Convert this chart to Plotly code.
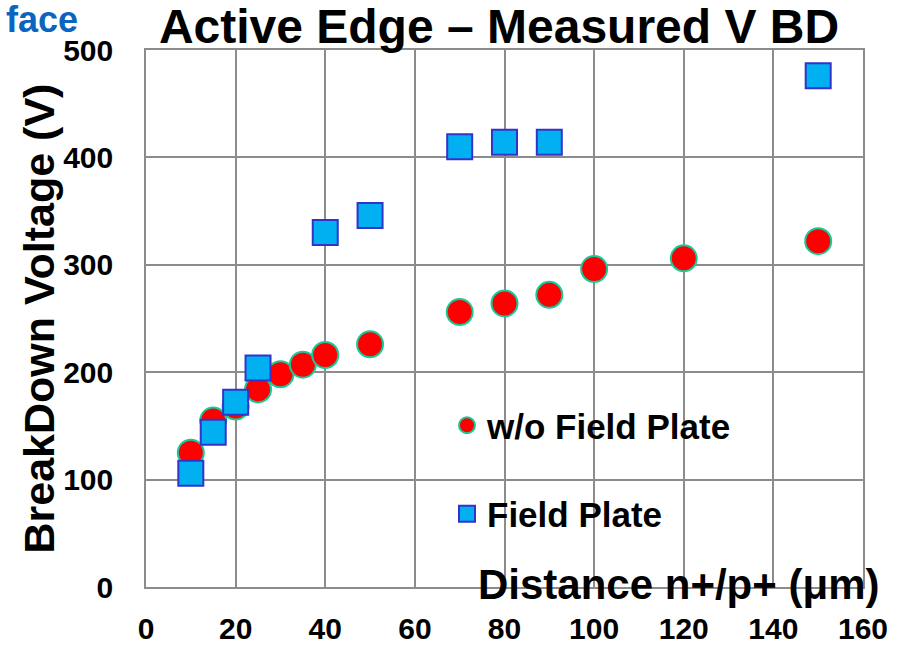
import plotly.graph_objects as go

# Data
dist_wo = [10, 15, 20, 25, 30, 35, 40, 50, 70, 80, 90, 100, 120, 150]
vbd_wo = [125, 155, 168, 184, 198, 207, 216, 226, 256, 264, 272, 296, 306, 322]

dist_fp = [10, 15, 20, 25, 40, 50, 70, 80, 90, 150]
vbd_fp = [106, 144, 172, 204, 330, 346, 410, 414, 414, 476]

x_ticks = [0, 20, 40, 60, 80, 100, 120, 140, 160]
y_ticks = [0, 100, 200, 300, 400, 500]

title_text = "Active Edge – Measured V BD"
x_title = "Distance n+/p+ (μm)"
y_title = "BreakDown Voltage (V)"
name_wo = "w/o Field Plate"
name_fp = "Field Plate"
corner_text = "face"

FONT = "Liberation Sans, Arial, sans-serif"
GRID = "#8c8c8c"

fig = go.Figure()
fig.add_trace(go.Scatter(
    x=dist_wo, y=vbd_wo, mode="markers", name=name_wo, legendgroup="a",
    marker=dict(symbol="circle", size=26, color="#ff0000",
                line=dict(color="#19c99a", width=2)),
))
fig.add_trace(go.Scatter(
    x=dist_fp, y=vbd_fp, mode="markers", name=name_fp, legendgroup="b",
    marker=dict(symbol="square", size=25, color="#00b0f0",
                line=dict(color="#3333cc", width=2)),
))

axis_common = dict(
    showgrid=True, gridcolor=GRID, gridwidth=1.5,
    showline=True, linecolor=GRID, linewidth=1.5, mirror=True,
    zeroline=False, ticks="", automargin=False,
    tickfont=dict(family=FONT, size=30, color="black", weight="bold"),
)

fig.update_xaxes(range=[0, 160], tickvals=x_ticks, ticklabelstandoff=14, **axis_common)
fig.update_yaxes(range=[0, 500], tickvals=y_ticks, ticklabelstandoff=25, **axis_common)

fig.update_layout(
    width=903, height=648,
    margin=dict(l=146, r=40, t=50, b=61),
    paper_bgcolor="white", plot_bgcolor="white",
    font=dict(family=FONT, color="black"),
    title=dict(
        text=title_text, x=(499 - 146) / 717, xref="paper", xanchor="center",
        y=1 - 26 / 648, yanchor="middle",
        font=dict(family=FONT, size=48, color="black", weight="bold"),
    ),
    showlegend=True,
    legend=dict(
        x=(447 - 146) / 717, y=(587 - 396) / 537, xanchor="left", yanchor="top",
        bgcolor="rgba(0,0,0,0)", borderwidth=0, itemwidth=30,
        traceorder="grouped", tracegroupgap=40,
        font=dict(family=FONT, size=35, color="black", weight="bold"),
    ),
    annotations=[
        dict(text=x_title, xref="paper", yref="paper",
             x=(881 - 146) / 717, y=(587 - 584) / 537,
             xanchor="right", yanchor="middle", showarrow=False,
             font=dict(family=FONT, size=42, color="black", weight="bold")),
        dict(text=y_title, xref="paper", yref="paper",
             x=(38 - 146) / 717, y=0.5, textangle=-90,
             xanchor="center", yanchor="middle", showarrow=False,
             font=dict(family=FONT, size=43, color="black", weight="bold")),
        dict(text=corner_text, xref="paper", yref="paper",
             x=(80 - 146) / 717, y=(587 - 20) / 537,
             xanchor="right", yanchor="middle", showarrow=False,
             font=dict(family=FONT, size=36, color="#0a64c0", weight="bold")),
    ],
)

fig.write_html("out.html")
